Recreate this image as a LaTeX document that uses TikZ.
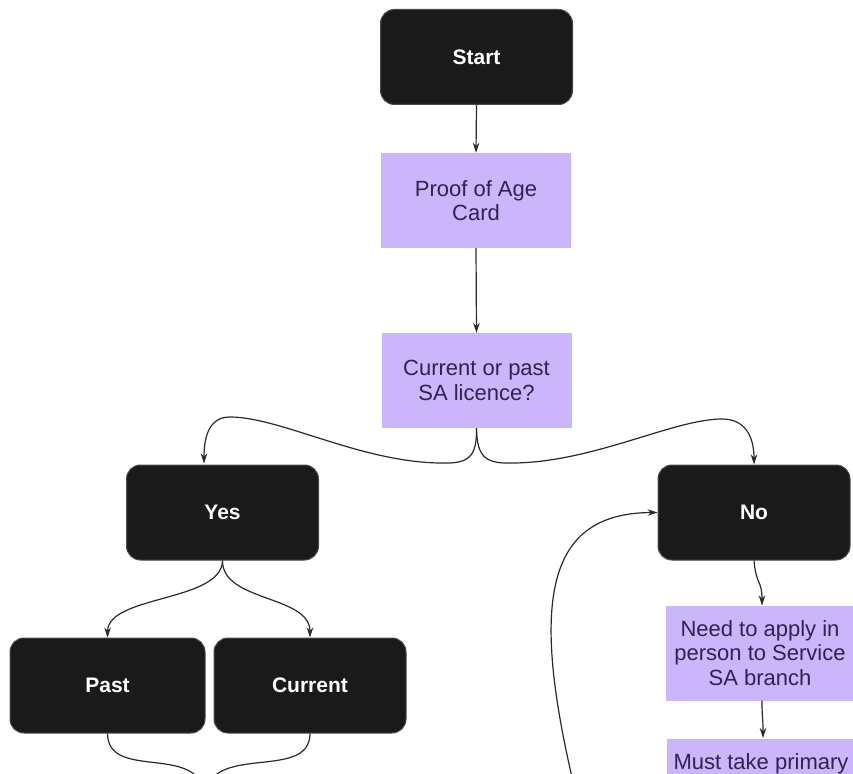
\documentclass[tikz,border=0pt]{standalone}
\usepackage{fontspec}
\setmainfont{Liberation Sans}
\usetikzlibrary{arrows.meta}
\definecolor{boxblack}{HTML}{1A1A1A}
\definecolor{boxedge}{HTML}{4A4A4A}
\definecolor{lilac}{HTML}{CBB5FB}
\definecolor{lilactext}{HTML}{2C2452}
\definecolor{linecol}{HTML}{2A2A2A}
\tikzset{
  darkbox/.style={rectangle, rounded corners=14pt, fill=boxblack, draw=boxedge, line width=1pt,
    minimum width=192pt, minimum height=95pt, text=white, font=\fontsize{21}{24}\selectfont\bfseries, inner sep=0pt},
  lilacbox/.style={rectangle, fill=lilac, draw=none, minimum width=190pt, minimum height=95pt,
    text=lilactext, font=\fontsize{22}{24.5}\selectfont, align=center, inner sep=0pt},
  conn/.style={draw=linecol, line width=1.2pt, -{Stealth[length=10pt,width=6.5pt]}},
  plain/.style={draw=linecol, line width=1.2pt}
}
\begin{document}
\begin{tikzpicture}[x=1pt,y=-1pt]
\useasboundingbox (0,0) rectangle (853,773);
\clip (0,0) rectangle (853,773);
\fill[white] (0,0) rectangle (853,773);

\node[darkbox] (start) at (476.5,57) {Start};
\node[lilacbox] (proof) at (476,200.5) {Proof of Age\\Card};
\node[lilacbox] (cur) at (476.5,380.5) {Current or past\\SA licence?};
\node[darkbox] (yes) at (222.5,512.5) {Yes};
\node[darkbox] (no) at (754,512.5) {No};
\node[darkbox, minimum width=195pt] (past) at (107.5,685.5) {Past};
\node[darkbox] (current) at (310,685.5) {Current};
\node[lilacbox, minimum width=188pt] (need) at (760,653) {Need to apply in\\person to Service\\SA branch};
\node[lilacbox, minimum width=188pt] (must) at (761,786) {Must take primary\\\phantom{X}\\\phantom{X}};

\coordinate (yesin) at (204,463.5);
\coordinate (needin) at (762,605.5);
\coordinate (needout) at (762,700.5);
\coordinate (mustin) at (763,738);
\coordinate (merge) at (205,800);
\coordinate (loopstart) at (585,830);

\draw[conn] (start.south) -- (proof.north);
\draw[conn] (proof.south) -- (cur.north);
\draw[conn] (cur.south) .. controls (477,458) and (468,464) .. (440,463)
  .. controls (360,462) and (280,417) .. (230,417)
  .. controls (210,417) and (204,435) .. (yesin);
\draw[conn] (cur.south) .. controls (477,458) and (486,464) .. (514,463)
  .. controls (594,462) and (674,419) .. (722,419)
  .. controls (744,419) and (754,435) .. (no.north);
\draw[conn] (yes.south) .. controls (222,602) and (108,595) .. (past.north);
\draw[conn] (yes.south) .. controls (222,602) and (310,595) .. (current.north);
\draw[plain] (past.south) .. controls (108,783) and (205,740) .. (merge);
\draw[plain] (current.south) .. controls (310,783) and (205,740) .. (merge);
\draw[conn] (no.south) .. controls (756,585) and (762,580) .. (needin);
\draw[conn] (needout) .. controls (762,720) and (763,715) .. (mustin);
\draw[conn] (loopstart) .. controls (530,620) and (535,513) .. (no.west);
\end{tikzpicture}
\end{document}
